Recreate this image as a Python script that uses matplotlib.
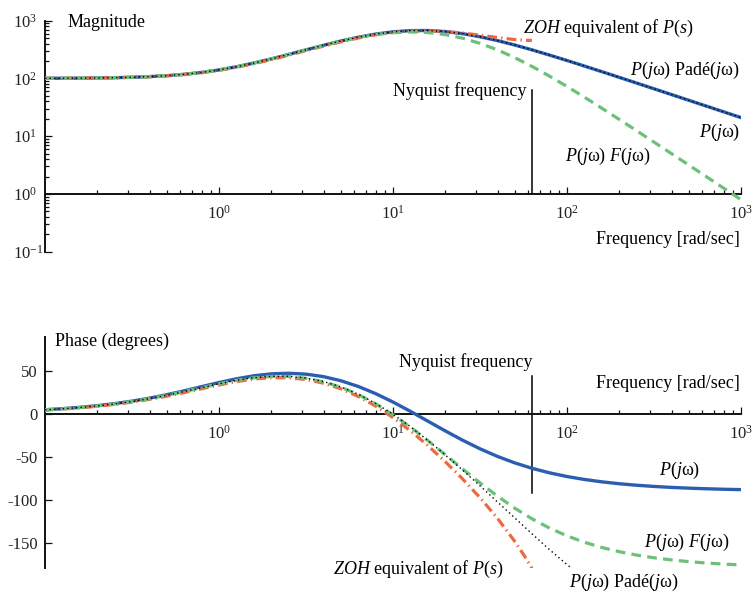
import numpy as np
import matplotlib
matplotlib.use("Agg")
import matplotlib.pyplot as plt
from matplotlib.ticker import LogLocator, NullFormatter, LogFormatterMathtext, FixedLocator

# ---------------- data ----------------
freq = [0.1, 0.1259, 0.1585, 0.1995, 0.2512, 0.3162, 0.3981, 0.5012, 0.631, 0.7943,
        1.0, 1.259, 1.585, 1.995, 2.512, 3.162, 3.981, 5.012, 6.31, 7.943,
        10.0, 12.59, 15.85, 19.95, 25.12, 31.62, 39.81, 50.12, 63.1, 79.43,
        100.0, 125.9, 158.5, 199.5, 251.2, 316.2, 398.1, 501.2, 631.0, 794.3, 1000.0]

# P(jw)
p_mag = [100.5, 100.8, 101.2, 101.95, 103.07, 104.82, 107.52, 111.69, 117.96, 127.2,
         140.56, 159.2, 184.6, 217.9, 260.4, 312.7, 374.7, 444.4, 517.4, 586.3,
         641.6, 673.7, 676.4, 648.9, 596.4, 527.7, 452.6, 379.1, 311.9, 253.6,
         204.5, 164.0, 131.1, 104.55, 83.24, 66.23, 52.67, 41.85, 33.26, 26.43, 21.0]
p_phase = [4.87, 6.12, 7.67, 9.6, 11.97, 14.88, 18.33, 22.38, 26.92, 31.75,
           36.56, 40.93, 44.42, 46.67, 47.38, 46.34, 43.47, 38.68, 32.03, 23.64,
           13.83, 2.98, -8.41, -19.78, -30.68, -40.67, -49.53, -57.13, -63.51, -68.73,
           -73.0, -76.44, -79.2, -81.42, -83.17, -84.57, -85.68, -86.57, -87.27, -87.84, -88.29]

# P(jw) F(jw)
pf_mag = [100.5, 100.8, 101.2, 101.95, 103.07, 104.82, 107.51, 111.68, 117.94, 127.17,
          140.51, 159.11, 184.44, 217.6, 259.8, 311.6, 372.7, 440.6, 510.4, 573.9,
          620.5, 639.5, 624.3, 574.5, 497.5, 405.6, 312.5, 229.0, 160.9, 109.4,
          72.64, 47.39, 30.56, 19.56, 12.45, 7.90, 5.005, 3.164, 2.0, 1.263, 0.797]
pf_phase = [4.72, 5.93, 7.43, 9.30, 11.59, 14.40, 17.73, 21.62, 25.97, 30.55,
            35.05, 39.03, 42.03, 43.66, 43.6, 41.58, 37.49, 31.17, 22.6, 11.83,
            -0.91, -15.35, -31.05, -47.48, -64.15, -80.43, -95.86, -109.96, -122.45, -133.16,
            -142.19, -149.65, -155.72, -160.64, -164.57, -167.72, -170.23, -172.23, -173.82, -175.1, -176.11]

# P(jw) Pade(jw): magnitude equals |P(jw)|, phase below
pade_freq = freq[:32]
pade_phase = [4.73, 5.94, 7.44, 9.31, 11.61, 14.43, 17.76, 21.66, 26.02, 30.61,
              35.13, 39.13, 42.15, 43.81, 43.78, 41.81, 37.77, 31.51, 23.01, 12.30,
              -0.42, -14.91, -30.82, -47.79, -65.54, -83.81, -102.6, -121.25, -140.06, -158.32,
              -175.68, -191.56]

# ZOH equivalent of P(s), up to the Nyquist frequency
zoh_freq = [0.1, 0.1259, 0.1585, 0.1995, 0.2512, 0.3162, 0.3981, 0.5012, 0.631, 0.7943,
            1.0, 1.259, 1.585, 1.995, 2.512, 3.162, 3.981, 5.012, 6.31, 7.943,
            10.0, 12.59, 15.85, 19.95, 25.12, 31.62, 39.81, 50.12, 56.23, 62.83]
zoh_mag = [100.46, 100.73, 101.15, 101.81, 102.85, 104.48, 107.01, 110.88, 116.76, 125.46,
           138.04, 155.74, 179.86, 211.65, 252.4, 302.7, 362.5, 430.0, 501.1, 568.9,
           624.6, 659.5, 668.1, 650.2, 611.5, 561.5, 511.0, 471.2, 459.3, 454.6]
zoh_phase = [4.48, 5.63, 7.06, 8.84, 11.04, 13.71, 16.91, 20.65, 24.85, 29.31,
             33.72, 37.65, 40.63, 42.25, 42.15, 40.08, 35.84, 29.31, 20.42, 9.19,
             -4.25, -19.69, -36.89, -55.61, -75.84, -97.64, -121.6, -148.67, -163.87, -180.0]

nyquist = 62.83
mag_ticks = [0.1, 1, 10, 100, 1000]
phase_ticks = [-150, -100, -50, 0, 50]
freq_ticks = [1, 10, 100, 1000]

# ---------------- style ----------------
plt.rcParams.update({
    "font.family": ["Liberation Serif", "DejaVu Serif"],
    "mathtext.fontset": "custom",
    "mathtext.rm": "Liberation Serif",
    "mathtext.it": "Liberation Serif:italic",
    "mathtext.bf": "Liberation Serif:bold",
    "axes.unicode_minus": False,
    "lines.scale_dashes": False,
})

BLUE = "#2b5eb0"
GREEN = "#6cc07a"
RED = "#f0683f"
TXT = 13
TICK = 12

fig = plt.figure(figsize=(7.52, 5.97), dpi=100)
axm = fig.add_axes([45 / 752, 1 - 251.7 / 597, 696 / 752, 231 / 597])
axp = fig.add_axes([45 / 752, 1 - 568.3 / 597, 696 / 752, (568.3 - 336.7) / 597])


def style(ax):
    for s in ["top", "right"]:
        ax.spines[s].set_visible(False)
    for s in ["left", "bottom"]:
        ax.spines[s].set_linewidth(1.4)
        ax.spines[s].set_color("#111111")
    ax.tick_params(which="both", direction="in", width=0.9, colors="#111111",
                   labelsize=TICK, labelcolor="#222222")
    ax.tick_params(which="major", length=5)
    ax.tick_params(which="minor", length=3)
    ax.set_facecolor("none")


def draw(ax, mag):
    if mag:
        ax.plot(freq, p_mag, color=BLUE, lw=2.4, zorder=3)
        ax.plot(zoh_freq, zoh_mag, color=RED, lw=2.3, dashes=(7, 3, 1, 3), zorder=4)
        ax.plot(freq, pf_mag, color=GREEN, lw=2.3, dashes=(7, 4.5), zorder=5)
        ax.plot(freq, p_mag, color="black", lw=1.0, dashes=(1, 2.2), zorder=6)
    else:
        ax.plot(freq, p_phase, color=BLUE, lw=2.4, zorder=3)
        ax.plot(zoh_freq, zoh_phase, color=RED, lw=2.3, dashes=(7, 3, 1, 3), zorder=4)
        ax.plot(freq, pf_phase, color=GREEN, lw=2.3, dashes=(7, 4.5), zorder=5)
        ax.plot(pade_freq, pade_phase, color="black", lw=1.0, dashes=(1, 2.2), zorder=6)


P = r"$\mathit{P(j}\mathrm{\omega}\mathit{)}$"
PADE = r"$\mathit{P(j}\mathrm{\omega}\mathit{)}$ Padé$\mathit{(j}\mathrm{\omega}\mathit{)}$"
PF = r"$\mathit{P(j}\mathrm{\omega}\mathit{)}$ $\mathit{F(j}\mathrm{\omega}\mathit{)}$"
ZOH = r"$\mathit{ZOH}$ equivalent of $\mathit{P(s)}$"

# ---------------- magnitude ----------------
style(axm)
axm.set_xscale("log")
axm.set_yscale("log")
axm.set_xlim(0.1, 1000)
axm.set_ylim(0.1, 1000)
axm.spines["bottom"].set_position(("data", 1))
axm.xaxis.set_major_locator(FixedLocator(freq_ticks))
axm.xaxis.set_major_formatter(LogFormatterMathtext())
axm.xaxis.set_minor_locator(LogLocator(base=10, subs=np.arange(2, 10), numticks=30))
axm.xaxis.set_minor_formatter(NullFormatter())
axm.yaxis.set_major_locator(FixedLocator(mag_ticks))
axm.yaxis.set_major_formatter(LogFormatterMathtext())
axm.yaxis.set_minor_locator(LogLocator(base=10, subs=np.arange(2, 10), numticks=30))
axm.yaxis.set_minor_formatter(NullFormatter())
axm.tick_params(axis="y", which="major", pad=23)
axm.tick_params(axis="x", which="major", pad=8)
for lab in axm.get_yticklabels():
    lab.set_horizontalalignment("left")
draw(axm, True)
axm.plot([nyquist, nyquist], [1, 63], color="black", lw=1.1, zorder=2)

axm.text(0.134, 940, "Magnitude", fontsize=TXT, ha="left", va="center")
axm.text(55.6, 724, ZOH, fontsize=TXT, ha="left", va="center")
axm.text(986, 137, PADE, fontsize=TXT, ha="right", va="center")
axm.text(986, 11.7, P, fontsize=TXT, ha="right", va="center")
axm.text(97, 4.43, PF, fontsize=TXT, ha="left", va="center")
axm.text(986, 0.164, "Frequency [rad/sec]", fontsize=TXT, ha="right", va="center")
axm.text(58.6, 60, "Nyquist frequency", fontsize=TXT, ha="right", va="center")

# ---------------- phase ----------------
style(axp)
axp.set_xscale("log")
axp.set_xlim(0.1, 1000)
axp.set_ylim(-180, 90)
axp.spines["bottom"].set_position(("data", 0))
axp.xaxis.set_major_locator(FixedLocator(freq_ticks))
axp.xaxis.set_major_formatter(LogFormatterMathtext())
axp.xaxis.set_minor_locator(LogLocator(base=10, subs=np.arange(2, 10), numticks=30))
axp.xaxis.set_minor_formatter(NullFormatter())
axp.yaxis.set_major_locator(FixedLocator(phase_ticks))
axp.tick_params(axis="y", which="major", pad=5)
axp.tick_params(axis="x", which="major", pad=8)
draw(axp, False)
axp.plot([nyquist, nyquist], [44, -92.5], color="black", lw=1.1, zorder=2)

axp.text(0.114, 84.3, "Phase (degrees)", fontsize=TXT, ha="left", va="center")
axp.text(26.3, 60.9, "Nyquist frequency", fontsize=TXT, ha="center", va="center")
axp.text(986, 35.6, "Frequency [rad/sec]", fontsize=TXT, ha="right", va="center")
axp.text(339, -65.9, P, fontsize=TXT, ha="left", va="center")
axp.text(277, -149.9, PF, fontsize=TXT, ha="left", va="center")
axp.text(4.52, -181, ZOH, fontsize=TXT, ha="left", va="center")
axp.text(102.5, -196.7, PADE, fontsize=TXT, ha="left", va="center")

fig.savefig("out.png", dpi=100, facecolor="white")
